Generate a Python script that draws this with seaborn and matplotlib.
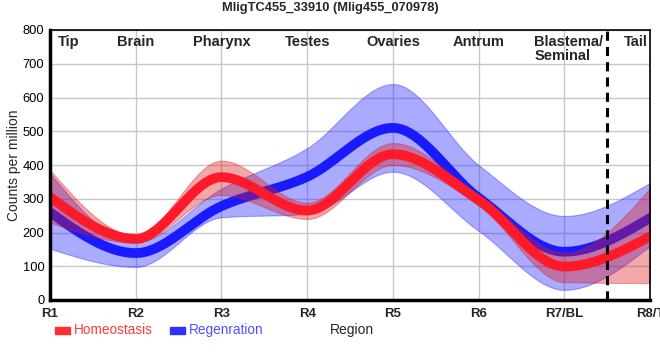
import numpy as np
import pandas as pd
import seaborn as sns
import matplotlib.pyplot as plt

# values (counts per million at each region)
regions = ["R1", "R2", "R3", "R4", "R5", "R6", "R7/BL", "R8/T"]
homeo_mean = [305, 181, 364, 265, 432, 296, 99, 188]
homeo_low = [230, 170, 311, 240, 400, 282, 53, 50]
homeo_high = [385, 192, 413, 288, 465, 312, 140, 331]
regen_mean = [260, 139, 278, 365, 510, 303, 143, 243]
regen_low = [152, 98, 245, 255, 380, 205, 30, 160]
regen_high = [375, 172, 330, 450, 640, 400, 249, 347]
tissues = ["Tip", "Brain", "Pharynx", "Testes", "Ovaries", "Antrum", "Blastema/\nSeminal", "Tail"]
tissue_pos = [0.22, 1.0, 2.0, 3.0, 4.0, 5.0, 5.65, 6.7]


def monotone(y, n=60):
    # monotone cubic (like d3 curveMonotoneX) for drawing the smooth curve
    y = np.asarray(y, float)
    x = np.arange(len(y), dtype=float)
    d = np.diff(y)
    m = np.zeros(len(y))
    for i in range(1, len(y) - 1):
        s0, s1 = d[i - 1], d[i]
        p = (s0 + s1) / 2
        m[i] = (np.sign(s0) + np.sign(s1)) * min(abs(s0), abs(s1), 0.5 * abs(p))
    m[0] = (3 * d[0] - m[1]) / 2
    m[-1] = (3 * d[-1] - m[-2]) / 2
    xs, ys = [], []
    for i in range(len(y) - 1):
        t = np.linspace(0, 1, n, endpoint=False)
        h00 = 2 * t**3 - 3 * t**2 + 1
        h10 = t**3 - 2 * t**2 + t
        h01 = -2 * t**3 + 3 * t**2
        h11 = t**3 - t**2
        xs.append(x[i] + t)
        ys.append(h00 * y[i] + h10 * m[i] + h01 * y[i + 1] + h11 * m[i + 1])
    xs.append([x[-1]])
    ys.append([y[-1]])
    return np.concatenate(xs), np.concatenate(ys)


sns.set_style("white")
plt.rcParams["font.family"] = ["Liberation Sans", "DejaVu Sans"]

fig = plt.figure(figsize=(6.6, 3.6), dpi=100)
ax = fig.add_axes([50 / 660, 60 / 360, 600 / 660, 270 / 360])

red = "#ff1a2a"
blue = "#1a1aff"

xx, rl = monotone(regen_low)
_, rh = monotone(regen_high)
ax.fill_between(xx, rl, rh, color="#2020ff", alpha=0.38, lw=0.8, zorder=2)
_, rm = monotone(regen_mean)
sns.lineplot(x=xx, y=rm, color=blue, lw=7, ax=ax, zorder=3)

_, hl = monotone(homeo_low)
_, hh = monotone(homeo_high)
ax.fill_between(xx, hl, hh, color="#dd1a1a", alpha=0.38, lw=0.8, zorder=4)
_, hm = monotone(homeo_mean)
sns.lineplot(x=xx, y=hm, color=red, lw=7, ax=ax, zorder=5)

ax.axvline(6.5, color="black", ls=(0, (3, 2)), lw=2.2, zorder=6)

ax.set_xlim(0, 7)
ax.set_ylim(0, 800)
ax.set_xticks(range(len(regions)))
ax.set_xticklabels(regions, fontweight="bold", fontsize=9.5)
ax.set_yticks(range(0, 801, 100))
ax.tick_params(axis="y", labelsize=9.3, length=3, pad=1, colors="black")
ax.tick_params(axis="x", length=4, pad=2)
ax.grid(True, color="#c8c8c8", lw=1)
ax.set_axisbelow(True)
for s in ["left", "bottom"]:
    ax.spines[s].set_linewidth(2.5)
for s in ["top", "right"]:
    ax.spines[s].set_linewidth(1.2)
for s in ax.spines.values():
    s.set_color("black")
    s.set_zorder(7)

for t, p in zip(tissues, tissue_pos):
    ax.text(p, 785, t, ha="left" if p in (5.65, 6.7) else "center",
            va="top", fontsize=10.5, fontweight="bold", linespacing=1.0)

ax.set_ylabel("Counts per million", fontsize=10, labelpad=1)
ax.set_xlabel("")
fig.text(352 / 660, 1 - 330 / 360, "Region", ha="center", va="center", fontsize=10)
fig.suptitle("MligTC455_33910 (Mlig455_070978)", y=1 - 8 / 360, va="center",
             fontsize=9.3, fontweight="bold")

# legend drawn as coloured handles with coloured text
fig.patches.append(plt.Rectangle((55 / 660, 1 - 334 / 360), 15 / 660, 7 / 360,
                                 transform=fig.transFigure, color="#ff3030"))
fig.text(74 / 660, 1 - 330 / 360, "Homeostasis", color="#ff3a3a", fontsize=9.8, va="center")
fig.patches.append(plt.Rectangle((170 / 660, 1 - 334 / 360), 15 / 660, 7 / 360,
                                 transform=fig.transFigure, color="#3030ff"))
fig.text(189 / 660, 1 - 330 / 360, "Regenration", color="#5050ff", fontsize=9.8, va="center")

fig.savefig("out.png", dpi=100)
